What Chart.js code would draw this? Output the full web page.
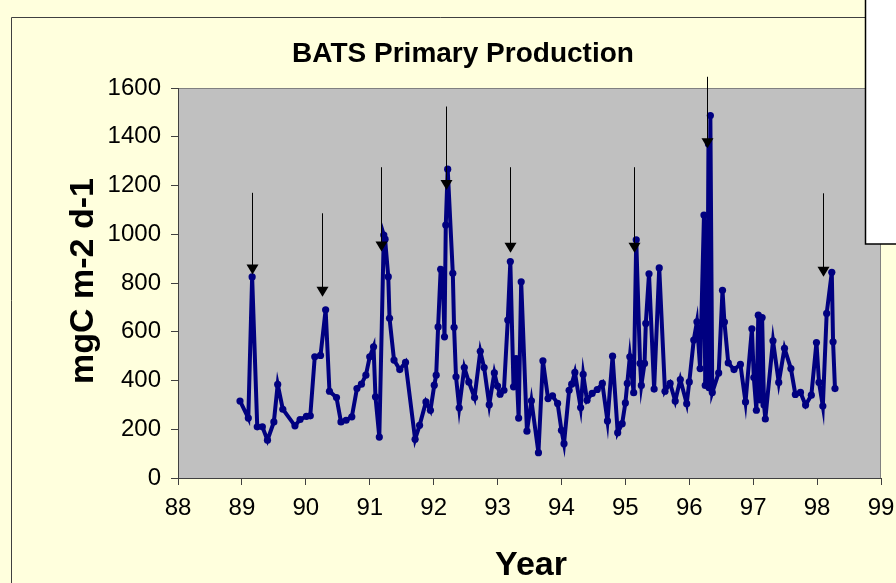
<!DOCTYPE html>
<html>
<head>
<meta charset="utf-8">
<script src="https://cdn.jsdelivr.net/npm/chart.js@4/dist/chart.umd.min.js"></script>
<style>
html,body{margin:0;padding:0;background:#FFFFDD;}
canvas{display:block;}
</style>
</head>
<body>
<canvas id="c" width="896" height="583"></canvas>
<script>
// ---- data ----
const years = [
 88.97,89.10,89.16,89.24,89.32,89.40,89.50,89.56,89.64,89.83,89.91,
 90.01,90.07,90.14,90.23,90.31,90.37,90.48,90.55,90.63,90.72,90.80,90.87,90.94,
 91.00,91.06,91.09,91.15,91.22,91.24,91.29,91.31,91.38,91.47,91.56,91.71,91.78,91.88,91.95,
 92.01,92.04,92.07,92.11,92.14,92.17,92.19,92.22,92.30,92.32,92.35,92.40,92.48,92.55,92.64,92.73,92.79,92.87,92.95,
 93.00,93.04,93.10,93.16,93.20,93.25,93.29,93.33,93.37,93.46,93.53,93.64,93.71,93.79,93.86,93.94,
 94.00,94.04,94.12,94.16,94.21,94.30,94.34,94.40,94.48,94.56,94.64,94.72,94.80,94.88,94.95,
 95.00,95.03,95.07,95.13,95.17,95.23,95.25,95.30,95.32,95.37,95.45,95.53,95.62,95.70,95.78,95.86,95.96,
 96.00,96.07,96.12,96.17,96.23,96.25,96.26,96.28,96.30,96.31,96.33,96.36,96.46,96.52,96.55,96.61,96.70,96.80,96.88,96.98,
 97.01,97.05,97.08,97.11,97.14,97.17,97.19,97.31,97.40,97.49,97.59,97.66,97.74,97.82,97.91,97.99,
 98.03,98.09,98.15,98.23,98.25,98.28
];
const production = [
 316,246,825,210,210,155,230,384,282,214,240,
 253,255,497,503,690,356,330,230,237,251,367,385,422,
 497,538,333,168,997,980,826,655,484,445,474,159,216,312,278,
 381,422,620,856,850,579,1038,1267,840,618,415,288,453,394,330,520,453,301,431,
 377,344,360,648,888,374,490,246,805,192,317,104,481,326,337,306,
 196,141,360,385,433,289,425,319,347,363,388,234,500,186,223,
 308,388,497,350,977,470,380,470,634,838,365,862,356,388,316,404,305,
 394,566,641,449,1079,380,1040,400,1370,370,1487,351,431,770,640,472,445,466,312,612,
 412,278,668,320,658,300,242,563,392,532,449,343,351,299,340,556,
 392,295,675,844,559,367
];
const xTickLabels = ["88","89","90","91","92","93","94","95","96","97","98","99"];
const yTickLabels = ["0","200","400","600","800","1000","1200","1400","1600"];
// annotation arrows (year, start value, tip value)
const arrowYears = [89.16, 90.26, 91.17, 92.19, 93.20, 95.13, 96.28, 98.10];
const arrowFrom  = [1170, 1086, 1275, 1524, 1275, 1275, 1646, 1168];
const arrowTo    = [835, 744, 929, 1182, 924, 924, 1353, 826];

const titleText = "BATS Primary Production";
const yTitle = "mgC m-2 d-1";
const xTitle = "Year";

const points = years.map((y, i) => ({x: y, y: production[i]}));

const decor = {
  id: 'decor',
  beforeDraw(chart) {
    const ctx = chart.ctx, a = chart.chartArea;
    ctx.save();
    ctx.fillStyle = '#FFFFDD';
    ctx.fillRect(0, 0, chart.width, chart.height);
    // outer frame
    ctx.strokeStyle = '#404040';
    ctx.lineWidth = 1;
    ctx.beginPath();
    ctx.moveTo(11.5, 600); ctx.lineTo(11.5, 17.5); ctx.lineTo(870, 17.5);
    ctx.stroke();
    // plot area
    ctx.fillStyle = '#C0C0C0';
    ctx.fillRect(a.left, a.top, a.right - a.left, a.bottom - a.top);
    ctx.strokeStyle = '#808080';
    ctx.strokeRect(a.left + 0.5, a.top + 0.5, a.right - a.left - 1, a.bottom - a.top);
    ctx.restore();
  },
  afterDatasetsDraw(chart) {
    const ctx = chart.ctx, xs = chart.scales.x, ys = chart.scales.y;
    ctx.save();
    ctx.strokeStyle = '#000';
    ctx.fillStyle = '#000';
    ctx.lineWidth = 1;
    arrowYears.forEach((yr, i) => {
      const x = Math.round(xs.getPixelForValue(yr)) + 0.5;
      const y0 = ys.getPixelForValue(arrowFrom[i]);
      const y1 = ys.getPixelForValue(arrowTo[i]);
      ctx.beginPath();
      ctx.moveTo(x, y0); ctx.lineTo(x, y1 - 8);
      ctx.stroke();
      ctx.beginPath();
      ctx.moveTo(x - 6, y1 - 10); ctx.lineTo(x + 6, y1 - 10); ctx.lineTo(x, y1);
      ctx.closePath();
      ctx.fill();
    });
    ctx.restore();
  },
  afterDraw(chart) {
    const ctx = chart.ctx;
    ctx.save();
    ctx.fillStyle = '#000';
    ctx.textAlign = 'center';
    ctx.textBaseline = 'alphabetic';
    ctx.font = 'bold 28px "Liberation Sans", Arial, sans-serif';
    ctx.fillText(titleText, 463, 62);
    ctx.font = 'bold 34px "Liberation Sans", Arial, sans-serif';
    ctx.fillText(xTitle, 531, 575);
    ctx.translate(93, 281);
    ctx.rotate(-Math.PI / 2);
    ctx.font = 'bold 34px "Liberation Sans", Arial, sans-serif';
    ctx.fillText(yTitle, 0, 0);
    ctx.restore();
    // overlay box at top right
    ctx.save();
    ctx.fillStyle = '#FFFFFF';
    ctx.fillRect(865, -2, 40, 246);
    ctx.strokeStyle = '#000';
    ctx.lineWidth = 1.5;
    ctx.strokeRect(865.5, -2, 40, 246);
    ctx.restore();
  }
};

new Chart(document.getElementById('c'), {
  type: 'line',
  data: {
    datasets: [{
      data: points,
      borderColor: '#000080',
      backgroundColor: '#000080',
      borderWidth: 4,
      pointRadius: 3.6,
      pointBorderWidth: 0,
      pointHoverRadius: 3.6,
      tension: 0
    }]
  },
  options: {
    responsive: false,
    animation: false,
    devicePixelRatio: 1,
    layout: { padding: { top: 88, right: 15, left: 0, bottom: 0 } },
    plugins: { legend: { display: false }, tooltip: { enabled: false }, title: { display: false } },
    scales: {
      x: {
        type: 'linear', min: 88, max: 99,
        afterFit(s) { s.height = 105; s.paddingLeft = 0; s.paddingRight = 0; },
        afterBuildTicks(s) { s.ticks = xTickLabels.map(v => ({ value: Number(v) })); },
        ticks: { color: '#000', font: { size: 24, family: '"Liberation Sans", Arial' }, padding: 9,
                 callback: (v) => String(v), maxRotation: 0, autoSkip: false },
        grid: { drawOnChartArea: false, tickLength: 7, color: '#404040' },
        border: { color: '#404040', width: 1 }
      },
      y: {
        min: 0, max: 1600,
        afterFit(s) { s.width = 178; s.paddingTop = 0; s.paddingBottom = 0; },
        afterBuildTicks(s) { s.ticks = yTickLabels.map(v => ({ value: Number(v) })); },
        ticks: { color: '#000', font: { size: 24, family: '"Liberation Sans", Arial' }, padding: 10,
                 callback: (v) => String(v), autoSkip: false },
        grid: { drawOnChartArea: false, tickLength: 7, color: '#404040' },
        border: { color: '#404040', width: 1 }
      }
    }
  },
  plugins: [decor]
});
</script>
</body>
</html>
